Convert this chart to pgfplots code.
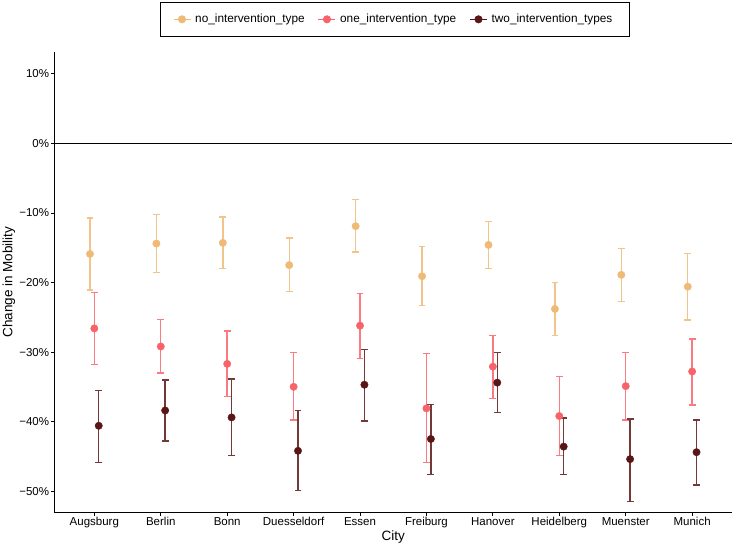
\documentclass[border=0pt]{standalone}
\usepackage{pgfplots}
\pgfplotsset{compat=1.18}
\usepackage{pgfplotstable}
\usepackage{fontspec}
\setmainfont{Liberation Sans}
\definecolor{cno}{HTML}{EFBA76}
\definecolor{cone}{HTML}{F8636A}
\definecolor{ctwo}{HTML}{5A1616}

\pgfplotstableread{
i y hi lo
0 -15.9 -10.7 -21.1
1 -14.4 -10.2 -18.6
2 -14.3 -10.6 -18.0
3 -17.5 -13.6 -21.3
4 -11.9 -8.1 -15.6
5 -19.1 -14.8 -23.3
6 -14.6 -11.2 -18.0
7 -23.8 -20.0 -27.6
8 -18.9 -15.1 -22.7
9 -20.6 -15.8 -25.4
}\nodata

\pgfplotstableread{
i y hi lo
0 -26.6 -21.4 -31.8
1 -29.2 -25.3 -33.0
2 -31.7 -27.0 -36.4
3 -35.0 -30.1 -39.8
4 -26.2 -21.6 -30.9
5 -38.1 -30.2 -45.9
6 -32.1 -27.6 -36.7
7 -39.2 -33.5 -44.9
8 -34.9 -30.1 -39.8
9 -32.8 -28.1 -37.6
}\onedata

\pgfplotstableread{
i y hi lo
0 -40.6 -35.5 -45.9
1 -38.4 -34.0 -42.8
2 -39.4 -33.9 -44.9
3 -44.2 -38.4 -49.9
4 -34.7 -29.6 -39.9
5 -42.5 -37.5 -47.6
6 -34.4 -30.1 -38.7
7 -43.6 -39.5 -47.6
8 -45.4 -39.6 -51.5
9 -44.4 -39.8 -49.1
}\twodata

\begin{document}
\begin{tikzpicture}
\useasboundingbox (-54.5bp,-34.3bp) rectangle (677.5bp,512bp);
\begin{axis}[
  at={(0,0)}, anchor=south west,
  scale only axis, width=677.5bp, height=459.7bp,
  xmin=-0.6, xmax=9.6, ymin=-53.0, ymax=13.1,
  axis x line*=bottom, axis y line*=left,
  axis line style={line width=0.8bp, black},
  xtick={0,1,2,3,4,5,6,7,8,9},
  xticklabels={Augsburg,Berlin,Bonn,Duesseldorf,Essen,Freiburg,Hanover,Heidelberg,Muenster,Munich},
  ytick={-50,-40,-30,-20,-10,0,10},
  yticklabels={−50\%,−40\%,−30\%,−20\%,−10\%,0\%,10\%},
  tick align=outside, major tick length=3.7bp,
  tick style={black, line width=0.8bp},
  minor tick num=0,
  ticklabel style={font=\fontsize{11.5bp}{13bp}\selectfont, text=black},
  yticklabel style={inner sep=1.5bp},
  xticklabel style={inner sep=1.5bp},
  xlabel={City}, ylabel={Change in Mobility},
  label style={font=\fontsize{13.5bp}{15bp}\selectfont},
  xlabel style={at={(axis description cs:0.5,0)}, anchor=center, yshift=-25.5bp},
  ylabel style={at={(axis description cs:-0.0672,0.5)}, anchor=center},
  legend style={at={(axis description cs:0.502,1.0717)}, anchor=center,
    draw=black, line width=0.6bp, fill=white,
    font=\fontsize{11.8bp}{13bp}\selectfont,
    inner xsep=13bp, inner ysep=9bp,
    /tikz/every even column/.append style={column sep=9bp},
    nodes={inner xsep=4bp, inner ysep=3bp}},
  legend columns=3,
  legend cell align=left,
]
\addplot[black, line width=0.8bp, forget plot] coordinates {(-0.6,0) (9.6,0)};

\addplot[forget plot, only marks, mark=*, mark size=3.7bp, color=cno, mark options={draw=none, fill=cno},
  error bars/.cd, y dir=both, y explicit,
  error bar style={line width=1.4bp, cno!85!white},
  error mark options={rotate=90, mark size=3.4bp, line width=1.4bp, cno!85!white}]
  table[x expr=\thisrow{i}-0.066, y=y, y error plus expr=\thisrow{hi}-\thisrow{y}, y error minus expr=\thisrow{y}-\thisrow{lo}] {\nodata};

\addplot[forget plot, only marks, mark=*, mark size=3.7bp, color=cone, mark options={draw=none, fill=cone},
  error bars/.cd, y dir=both, y explicit,
  error bar style={line width=1.4bp, cone!85!white},
  error mark options={rotate=90, mark size=3.4bp, line width=1.4bp, cone!85!white}]
  table[x expr=\thisrow{i}, y=y, y error plus expr=\thisrow{hi}-\thisrow{y}, y error minus expr=\thisrow{y}-\thisrow{lo}] {\onedata};

\addplot[forget plot, only marks, mark=*, mark size=3.7bp, color=ctwo, mark options={draw=none, fill=ctwo},
  error bars/.cd, y dir=both, y explicit,
  error bar style={line width=1.4bp, ctwo!85!white},
  error mark options={rotate=90, mark size=3.4bp, line width=1.4bp, ctwo!85!white}]
  table[x expr=\thisrow{i}+0.066, y=y, y error plus expr=\thisrow{hi}-\thisrow{y}, y error minus expr=\thisrow{y}-\thisrow{lo}] {\twodata};

\addlegendimage{legend image code/.code={\draw[cno, line width=1.4bp] (0bp,0bp) -- (17bp,0bp); \fill[cno] (8.5bp,0bp) circle (3.7bp);}}
\addlegendentry{no\_intervention\_type}
\addlegendimage{legend image code/.code={\draw[cone, line width=1.4bp] (0bp,0bp) -- (17bp,0bp); \fill[cone] (8.5bp,0bp) circle (3.7bp);}}
\addlegendentry{one\_intervention\_type}
\addlegendimage{legend image code/.code={\draw[ctwo, line width=1.4bp] (0bp,0bp) -- (17bp,0bp); \fill[ctwo] (8.5bp,0bp) circle (3.7bp);}}
\addlegendentry{two\_intervention\_types}
\end{axis}
\end{tikzpicture}
\end{document}
